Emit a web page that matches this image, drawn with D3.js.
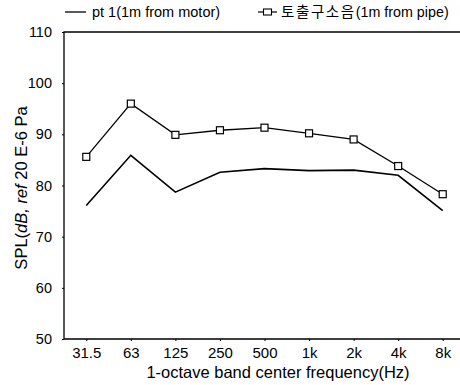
<!DOCTYPE html>
<html>
<head>
<meta charset="utf-8">
<script src="https://cdn.jsdelivr.net/npm/d3@7"></script>
<style>
  body { margin: 0; background: #fff; }
  text { font-family: "Liberation Sans", Arial, sans-serif; fill: #000; }
</style>
</head>
<body>
<div id="chart"></div>
<script>
const bands = ["31.5", "63", "125", "250", "500", "1k", "2k", "4k", "8k"]
const motorSpl = [76.1, 85.9, 78.7, 82.6, 83.3, 82.9, 83.0, 82.0, 75.1]
const pipeSpl = [85.6, 96.0, 89.9, 90.8, 91.3, 90.2, 89.0, 83.8, 78.3]
const yTicks = [50, 60, 70, 80, 90, 100, 110]
const legendLabels = ["pt 1(1m from motor)", "토출구소음", "(1m from pipe)"]

const width = 460, height = 385
const margin = { top: 32, right: -5, bottom: 46, left: 64 }

const svg = d3.select("#chart")
    .append("svg")
    .attr("width", width)
    .attr("height", height)

const x = d3.scalePoint()
    .domain(bands)
    .range([margin.left, width - margin.right])
    .padding(0.5)

const y = d3.scaleLinear()
    .domain([50, 110])
    .range([height - margin.bottom, margin.top])

// frame: left, top, bottom (right side runs off the picture)
const x0 = margin.left, x1 = width - margin.right
svg.append("path")
    .attr("d", `M${x1},${y(110)}H${x0}V${y(50)}H${x1}`)
    .attr("fill", "none")
    .attr("stroke", "#000")
    .attr("stroke-width", 1.3)

const yAxis = svg.append("g")
    .attr("transform", `translate(${x0},0)`)
    .call(d3.axisLeft(y).tickValues(yTicks).tickSize(2).tickPadding(10))
yAxis.select(".domain").remove()
yAxis.selectAll("text").attr("font-size", 14.5)
    .style("font-family", "Liberation Sans, Arial, sans-serif")

const xAxis = svg.append("g")
    .attr("transform", `translate(0,${y(50)})`)
    .call(d3.axisBottom(x).tickSize(2).tickPadding(6))
xAxis.select(".domain").remove()
xAxis.selectAll("text").attr("font-size", 15)
    .style("font-family", "Liberation Sans, Arial, sans-serif")

svg.append("text")
    .attr("x", 278)
    .attr("y", 378)
    .attr("text-anchor", "middle")
    .attr("font-size", 16.5)
    .text("1-octave band center frequency(Hz)")

const yTitle = svg.append("text")
    .attr("transform", `translate(27,188) rotate(-90)`)
    .attr("text-anchor", "middle")
    .attr("font-size", 16.5)
yTitle.append("tspan").text("SPL(")
yTitle.append("tspan").attr("font-style", "italic").text("dB, ref")
yTitle.append("tspan").text(" 20 E-6 Pa")

const line = d3.line()
    .x((d, i) => x(bands[i]))
    .y(d => y(d))

svg.append("path")
    .datum(motorSpl)
    .attr("d", line)
    .attr("fill", "none")
    .attr("stroke", "#000")
    .attr("stroke-width", 1.6)

svg.append("path")
    .datum(pipeSpl)
    .attr("d", line)
    .attr("fill", "none")
    .attr("stroke", "#000")
    .attr("stroke-width", 1.3)

svg.selectAll(".mk")
    .data(pipeSpl)
    .enter()
    .append("rect")
    .attr("x", (d, i) => x(bands[i]) - 3.5)
    .attr("y", d => y(d) - 3.5)
    .attr("width", 7)
    .attr("height", 7)
    .attr("fill", "#fff")
    .attr("stroke", "#000")
    .attr("stroke-width", 1.2)

// legend
const lg = svg.append("g")
lg.append("line").attr("x1", 65).attr("x2", 86).attr("y1", 12).attr("y2", 12)
    .attr("stroke", "#000").attr("stroke-width", 1.3)
lg.append("text").attr("x", 92).attr("y", 17).attr("font-size", 14.5).text(legendLabels[0])
lg.append("line").attr("x1", 258).attr("x2", 277).attr("y1", 12).attr("y2", 12)
    .attr("stroke", "#000").attr("stroke-width", 1.2)
lg.append("rect").attr("x", 263.5).attr("y", 9).attr("width", 8).attr("height", 6)
    .attr("fill", "#fff").attr("stroke", "#000").attr("stroke-width", 1.1)
const lt = lg.append("text").attr("x", 281).attr("y", 17)
lt.append("tspan").attr("font-size", 14.5).attr("letter-spacing", 1.6)
    .style("font-family", "'Noto Sans CJK KR', sans-serif")
    .text(legendLabels[1])
lt.append("tspan").attr("font-size", 14.3).text(legendLabels[2])
</script>
</body>
</html>
